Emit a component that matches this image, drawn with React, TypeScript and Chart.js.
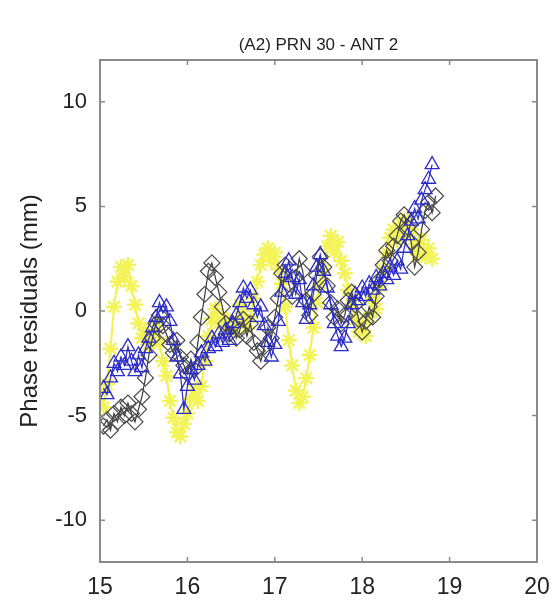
import React, { useEffect, useRef } from "react";
import { Chart, registerables } from "chart.js";

Chart.register(...registerables);

const TITLE = "(A2) PRN 30 - ANT 2";
const Y_LABEL = "Phase residuals (mm)";
const X_TICKS = [15, 16, 17, 18, 19, 20];
const Y_TICKS = [-10, -5, 0, 5, 10];

const yellowTime = [
  15.0, 15.04, 15.08, 15.12, 15.16, 15.2, 15.24, 15.28, 15.32, 15.36, 15.4, 15.44, 15.48, 15.52, 15.56, 15.6,
  15.64, 15.68, 15.72, 15.76, 15.8, 15.84, 15.88, 15.92, 15.96, 16.0, 16.04, 16.08, 16.12, 16.16, 16.2, 16.24,
  16.28, 16.32, 16.36, 16.4, 16.44, 16.48, 16.52, 16.56, 16.6, 16.64, 16.68, 16.72, 16.76, 16.8, 16.84, 16.88,
  16.92, 16.96, 17.0, 17.04, 17.08, 17.12, 17.16, 17.2, 17.24, 17.28, 17.32, 17.36, 17.4, 17.44, 17.48, 17.52,
  17.56, 17.6, 17.64, 17.68, 17.72, 17.76, 17.8, 17.84, 17.88, 17.92, 17.96, 18.0, 18.04, 18.08, 18.12, 18.16,
  18.2, 18.24, 18.28, 18.32, 18.36, 18.4, 18.44, 18.48, 18.52, 18.56, 18.6, 18.64, 18.68, 18.72, 18.76, 18.8,
];
const yellowValues = [
  -3.8, -4.6, -3.5, -1.8, 0.2, 1.4, 2.1, 1.6, 2.2, 1.2, 0.3, -0.6, -1.3, -0.9, -1.6, -1.1,
  -0.7, -1.5, -2.4, -3.1, -4.3, -5.1, -5.8, -6.0, -5.4, -4.9, -4.2, -3.8, -4.3, -3.6, -2.4, -1.2,
  -0.4, 0.1, -0.6, -0.3, -0.9, -0.5, -1.0, -0.4, 0.3, -0.2, -0.8, -0.3, 0.6, 1.4, 2.2, 2.7,
  3.0, 2.4, 2.8, 2.0, 1.3, 0.2, -1.4, -2.6, -3.8, -4.4, -4.1, -3.2, -2.1, -0.8, 0.4, 1.3,
  2.0, 3.1, 3.6, 2.8, 3.3, 2.4, 1.8, 1.0, 0.3, -0.4, -1.0, -0.6, -1.2, -0.3, 0.6, 0.1,
  1.2, 2.0, 2.8, 3.5, 3.9, 3.4, 4.2, 3.6, 4.4, 3.9, 3.2, 2.7, 3.4, 2.6, 3.0, 2.5,
];

const diamondTime = [
  15.04, 15.08, 15.12, 15.16, 15.2, 15.24, 15.28, 15.32, 15.36, 15.4, 15.44, 15.48, 15.52, 15.56, 15.6, 15.64,
  15.68, 15.72, 15.76, 15.8, 15.84, 15.88, 15.92, 15.96, 16.0, 16.04, 16.08, 16.12, 16.16, 16.2, 16.24, 16.28,
  16.32, 16.36, 16.4, 16.44, 16.48, 16.52, 16.56, 16.6, 16.64, 16.68, 16.72, 16.76, 16.8, 16.84, 16.88, 16.92,
  16.96, 17.0, 17.04, 17.08, 17.12, 17.16, 17.2, 17.24, 17.28, 17.32, 17.36, 17.4, 17.44, 17.48, 17.52, 17.56,
  17.6, 17.64, 17.68, 17.72, 17.76, 17.8, 17.84, 17.88, 17.92, 17.96, 18.0, 18.04, 18.08, 18.12, 18.16, 18.2,
  18.24, 18.28, 18.32, 18.36, 18.4, 18.44, 18.48, 18.52, 18.56, 18.6, 18.64, 18.68, 18.72, 18.76, 18.8, 18.84,
];
const diamondValues = [
  -5.5, -5.2, -5.7, -4.9, -5.3, -4.6, -5.0, -4.4, -4.9, -5.3, -4.7, -4.1, -3.2, -2.1, -1.3, -0.6,
  -0.2, -0.7, -1.1, -1.6, -2.0, -1.4, -2.2, -2.6, -3.0, -2.3, -2.8, -1.5, -0.3, 0.8, 1.9, 2.3,
  1.6, 0.9, 0.2, -0.6, -1.1, -0.7, -1.3, -0.9, -0.4, -1.2, -0.6, -1.5, -1.9, -2.4, -1.7, -0.8,
  -1.3, -0.3, 0.6, 1.8, 2.2, 1.3, 0.7, 1.6, 2.5, 1.9, 0.5, -0.2, 0.8, 1.7, 2.6, 2.1,
  1.2, 0.4, -0.3, 0.1, -0.6, -0.2, 0.5, 0.9, 0.3, -0.4, -1.0, -0.5, 0.2, -0.3, 0.7, 1.5,
  2.2, 2.9, 2.4, 3.1, 3.6, 4.3, 4.6, 4.0, 3.3, 2.1, 2.8, 3.9, 4.8, 5.2, 4.7, 5.5,
];

const triangleTime = [
  15.04, 15.08, 15.12, 15.16, 15.2, 15.24, 15.28, 15.32, 15.36, 15.4, 15.44, 15.48, 15.52, 15.56, 15.6, 15.64,
  15.68, 15.72, 15.76, 15.8, 15.84, 15.88, 15.92, 15.96, 16.0, 16.04, 16.08, 16.12, 16.16, 16.2, 16.24, 16.28,
  16.32, 16.36, 16.4, 16.44, 16.48, 16.52, 16.56, 16.6, 16.64, 16.68, 16.72, 16.76, 16.8, 16.84, 16.88, 16.92,
  16.96, 17.0, 17.04, 17.08, 17.12, 17.16, 17.2, 17.24, 17.28, 17.32, 17.36, 17.4, 17.44, 17.48, 17.52, 17.56,
  17.6, 17.64, 17.68, 17.72, 17.76, 17.8, 17.84, 17.88, 17.92, 17.96, 18.0, 18.04, 18.08, 18.12, 18.16, 18.2,
  18.24, 18.28, 18.32, 18.36, 18.4, 18.44, 18.48, 18.52, 18.56, 18.6, 18.64, 18.68, 18.72, 18.76, 18.8,
];
const triangleValues = [
  -3.7, -4.0, -3.2, -2.5, -2.9, -2.2, -2.6, -1.7, -2.4, -2.9, -2.1, -2.7, -1.8, -1.3, -0.8, -0.3,
  0.4, -0.1, 0.2, -0.5, -1.4, -2.2, -3.0, -4.7, -3.6, -2.8, -3.3, -2.6, -2.0, -2.4, -1.8, -1.3,
  -1.7, -1.1, -1.5, -0.9, -1.4, -0.6, -0.2, 0.4, 1.1, 0.6, 1.0, 0.3, -0.3, 0.2, -0.7, -1.5,
  -2.2, -1.6, -0.5, 0.9, 1.8, 2.4, 1.6, 0.8, 1.5, 0.4, -0.4, 0.3, 1.2, 2.1, 2.7, 1.9,
  1.1, 0.3, -0.6, -1.2, -1.7, -1.3, -0.6, 0.3, 0.8, 0.5, 1.1, 0.7, 1.3, 1.0, 1.6, 1.2,
  1.8, 1.5, 2.1, 1.7, 2.4, 2.0, 3.0, 3.6, 4.3, 4.9, 4.4, 5.3, 5.8, 6.3, 7.0,
];

const FONT = 'Arial, "Liberation Sans", sans-serif';

const toPoints = (xs: number[], ys: number[]) => xs.map((x, i) => ({ x, y: ys[i] }));

const framePlugin = {
  id: "matlabFrame",
  afterDraw(chart: any) {
    const { ctx, chartArea } = chart;
    const { left, right, top, bottom } = chartArea;
    const xs = chart.scales.x;
    const ys = chart.scales.y;
    ctx.save();
    ctx.strokeStyle = "#8a8a8a";
    ctx.lineWidth = 2;
    ctx.strokeRect(left, top, right - left, bottom - top);
    ctx.lineWidth = 1.5;
    const tl = 5;
    ctx.beginPath();
    X_TICKS.forEach((v) => {
      const px = xs.getPixelForValue(v);
      ctx.moveTo(px, bottom);
      ctx.lineTo(px, bottom - tl);
      ctx.moveTo(px, top);
      ctx.lineTo(px, top + tl);
    });
    Y_TICKS.forEach((v) => {
      const py = ys.getPixelForValue(v);
      ctx.moveTo(left, py);
      ctx.lineTo(left + tl, py);
      ctx.moveTo(right, py);
      ctx.lineTo(right - tl, py);
    });
    ctx.stroke();
    ctx.fillStyle = "#222";
    ctx.font = `17px ${FONT}`;
    ctx.textAlign = "center";
    ctx.textBaseline = "middle";
    ctx.fillText(TITLE, (left + right) / 2, 45);
    ctx.restore();
  },
};

export default function App() {
  const ref = useRef<HTMLCanvasElement | null>(null);

  useEffect(() => {
    if (!ref.current) return;
    const chart = new Chart(ref.current, {
      type: "line",
      data: {
        datasets: [
          {
            label: "triangles",
            data: toPoints(triangleTime, triangleValues),
            borderColor: "#2b2bc8",
            backgroundColor: "rgba(0,0,0,0)",
            borderWidth: 1.2,
            pointStyle: "triangle",
            pointRadius: 8,
            pointBorderColor: "#2b2bc8",
            pointBorderWidth: 1.3,
            pointBackgroundColor: "rgba(0,0,0,0)",
            tension: 0,
          },
          {
            label: "diamonds",
            data: toPoints(diamondTime, diamondValues),
            borderColor: "#3a3a3a",
            backgroundColor: "rgba(0,0,0,0)",
            borderWidth: 1.2,
            pointStyle: "rectRot",
            pointRadius: 8,
            pointBorderColor: "#4a4a4a",
            pointBorderWidth: 1.2,
            pointBackgroundColor: "rgba(0,0,0,0)",
            tension: 0,
          },
          {
            label: "stars",
            data: toPoints(yellowTime, yellowValues),
            borderColor: "#f2f24a",
            backgroundColor: "rgba(0,0,0,0)",
            borderWidth: 2,
            pointStyle: "star",
            pointRadius: 8,
            pointBorderColor: "#f3f35a",
            pointBorderWidth: 2.5,
            pointBackgroundColor: "#f4f470",
            tension: 0,
          },
        ],
      },
      options: {
        animation: false,
        responsive: false,
        maintainAspectRatio: false,
        layout: { padding: { top: 60, right: 19, left: 0, bottom: 0 } },
        plugins: {
          legend: { display: false },
          tooltip: { enabled: false },
          title: { display: false },
        },
        scales: {
          x: {
            type: "linear",
            min: 15,
            max: 20,
            grid: { display: false },
            border: { display: false },
            afterFit: (s: any) => {
              s.height = 40;
            },
            afterBuildTicks: (s: any) => {
              s.ticks = X_TICKS.map((v) => ({ value: v }));
            },
            ticks: {
              font: { family: FONT, size: 23 },
              color: "#222",
              padding: 4,
              maxRotation: 0,
            },
          },
          y: {
            type: "linear",
            min: -12,
            max: 12,
            grid: { display: false },
            border: { display: false },
            afterFit: (s: any) => {
              s.width = 100;
            },
            afterBuildTicks: (s: any) => {
              s.ticks = Y_TICKS.map((v) => ({ value: v }));
            },
            ticks: {
              font: { family: FONT, size: 22 },
              color: "#222",
              padding: 5,
            },
            title: {
              display: true,
              text: Y_LABEL,
              font: { family: FONT, size: 24 },
              color: "#222",
              padding: { top: 16, bottom: 0 },
            },
          },
        },
      },
      plugins: [framePlugin],
    });
    return () => chart.destroy();
  }, []);

  return (
    <div style={{ position: "absolute", left: 0, top: 0, width: 556, height: 602, background: "#fff" }}>
      <canvas ref={ref} width={556} height={602} style={{ width: 556, height: 602 }} />
    </div>
  );
}
